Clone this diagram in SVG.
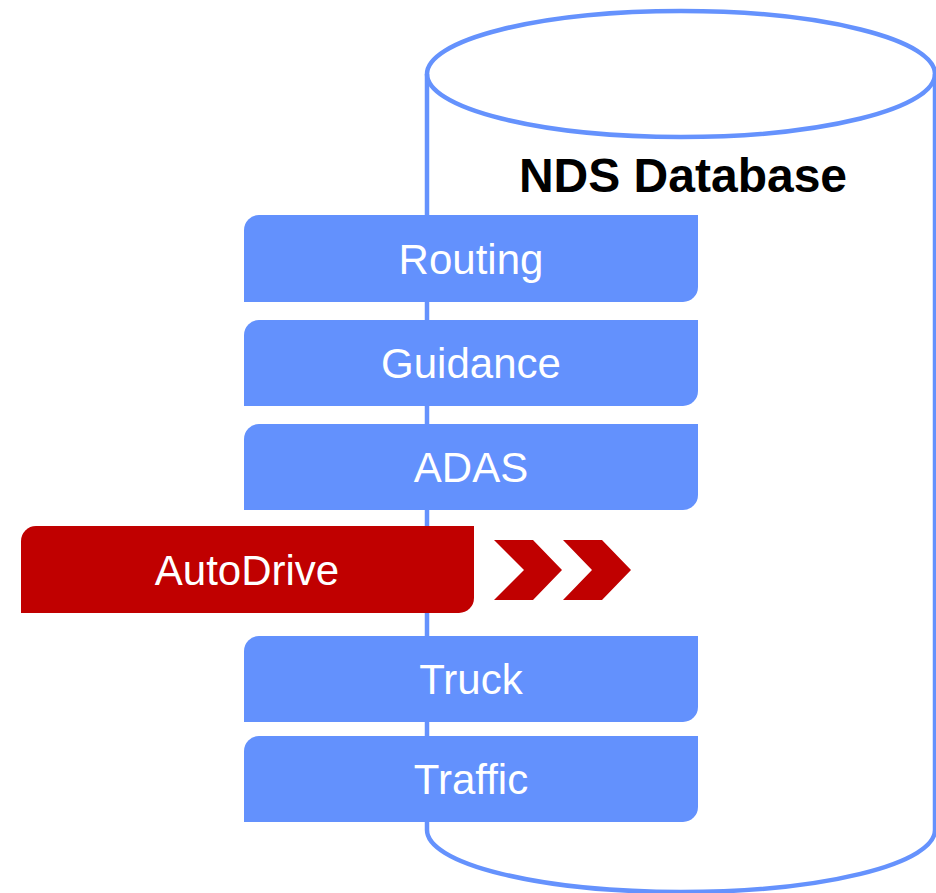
<svg xmlns="http://www.w3.org/2000/svg" width="936" height="893" viewBox="0 0 936 893">
<style>
.cyl{fill:none;stroke:#6592fd;stroke-width:4.5}
.blue{fill:#6391fd}
.red{fill:#c00000}
.lbl{font-family:"Liberation Sans",Arial,sans-serif;font-size:42px;fill:#ffffff;text-anchor:middle}
.title{font-family:"Liberation Sans",Arial,sans-serif;font-size:48px;font-weight:bold;fill:#000000;text-anchor:middle}
</style>
<rect width="936" height="893" fill="#ffffff"/>
<g id="database">
<path class="cyl" d="M427,74 L427,830 A254,62 0 0 0 935,830 L935,74"/>
<ellipse class="cyl" cx="681" cy="74" rx="254" ry="63"/>
<text class="title" x="683" y="192">NDS Database</text>
</g>
<g id="routing">
<path class="blue" d="M259,215 H698 V287 A15,15 0 0 1 683,302 H244 V230 A15,15 0 0 1 259,215 Z"/>
<text class="lbl" x="471" y="274">Routing</text>
</g>
<g id="guidance">
<path class="blue" d="M259,320 H698 V391 A15,15 0 0 1 683,406 H244 V335 A15,15 0 0 1 259,320 Z"/>
<text class="lbl" x="471" y="378">Guidance</text>
</g>
<g id="adas">
<path class="blue" d="M259,424 H698 V495 A15,15 0 0 1 683,510 H244 V439 A15,15 0 0 1 259,424 Z"/>
<text class="lbl" x="471" y="482">ADAS</text>
</g>
<g id="autodrive">
<path class="red" d="M36,526 H474 V598 A15,15 0 0 1 459,613 H21 V541 A15,15 0 0 1 36,526 Z"/>
<text class="lbl" x="247" y="585">AutoDrive</text>
</g>
<g id="connectors">
<polygon class="red" points="494,540 533,540 562,570 533,600 494,600 524,570"/>
<polygon class="red" points="563,540 602,540 631,570 602,600 563,600 592,570"/>
</g>
<g id="truck">
<path class="blue" d="M259,636 H698 V707 A15,15 0 0 1 683,722 H244 V651 A15,15 0 0 1 259,636 Z"/>
<text class="lbl" x="471" y="694">Truck</text>
</g>
<g id="traffic">
<path class="blue" d="M259,736 H698 V807 A15,15 0 0 1 683,822 H244 V751 A15,15 0 0 1 259,736 Z"/>
<text class="lbl" x="471" y="794">Traffic</text>
</g>
</svg>
